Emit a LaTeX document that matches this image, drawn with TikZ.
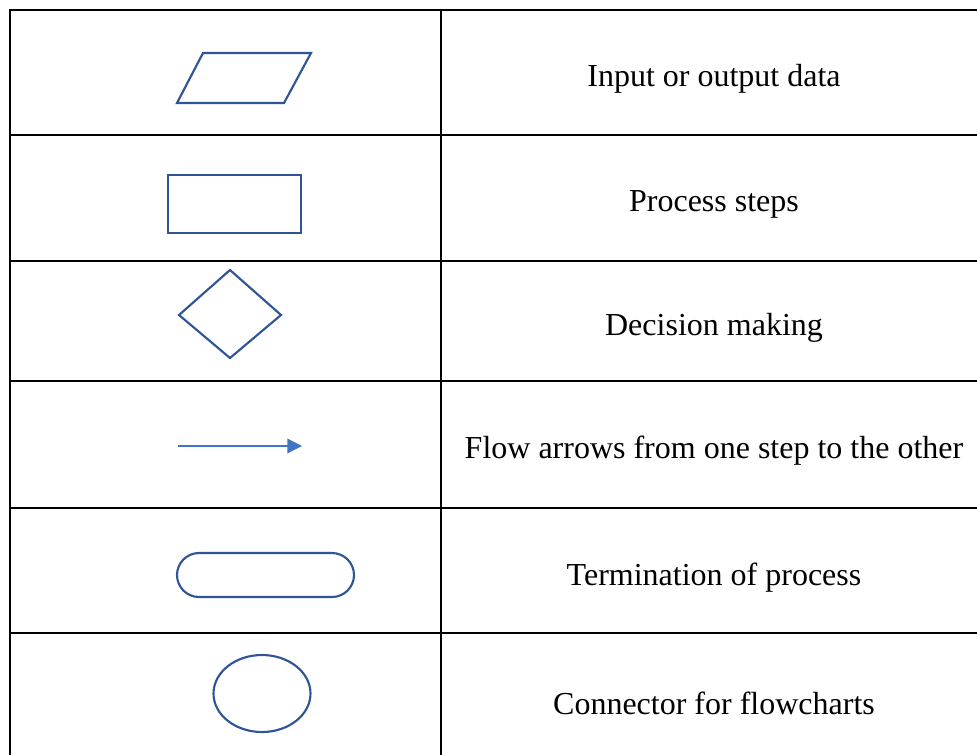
\documentclass[tikz,border=0pt]{standalone}
\usepackage{fontspec}
\setmainfont{Liberation Serif}
\usetikzlibrary{arrows.meta,shapes.geometric}
\definecolor{shapeblue}{HTML}{2F5597}
\definecolor{arrowblue}{HTML}{4472C4}
\begin{document}
\begin{tikzpicture}[x=0.75pt,y=-0.75pt,
  grid/.style={line width=2pt,black,line join=miter},
  symb/.style={line width=1.6pt,draw=shapeblue,line join=miter},
  lbl/.style={font=\fontsize{24}{28}\selectfont,inner sep=0pt,anchor=center}]
\useasboundingbox (0,0) rectangle (977,754);
% table grid
\draw[grid] (990,10) -- (10,10) -- (10,760);
\draw[grid] (441,10) -- (441,760);
\foreach \y in {135,261,381,508,633}{\draw[grid] (10,\y) -- (990,\y);}
% symbols
\draw[symb] (177,103) coordinate (p1) -- (203,53) coordinate (p2) -- (311,53) coordinate (p3) -- (284,103) coordinate (p4) -- cycle;
\draw[symb] (168,175) coordinate (r1) rectangle (301,233) coordinate (r2);
\draw[symb] (230,270) coordinate (d1) -- (281,315) coordinate (d2) -- (230,358) coordinate (d3) -- (179,315) coordinate (d4) -- cycle;
\coordinate (a1) at (178,446);
\coordinate (a2) at (302,446);
\draw[arrowblue,line width=1pt,-{Triangle[length=11pt,width=11pt]}] (a1) -- (a2);
\draw[symb,rounded corners=16.5pt] (177,553) coordinate (t1) rectangle (354,597) coordinate (t2);
\draw[symb] (262,693.5) coordinate (e0) ellipse [x radius=48.5, y radius=38.5];
% labels
\node[lbl] (l1) at (714,79) {Input or output data};
\node[lbl] (l2) at (714,204) {Process steps};
\node[lbl] (l3) at (714,328) {Decision making};
\node[lbl] (l4) at (714,451) {Flow arrows from one step to the other};
\node[lbl] (l5) at (714,578) {Termination of process};
\node[lbl] (l6) at (714,703) {Connector for flowcharts};
\end{tikzpicture}
\end{document}
